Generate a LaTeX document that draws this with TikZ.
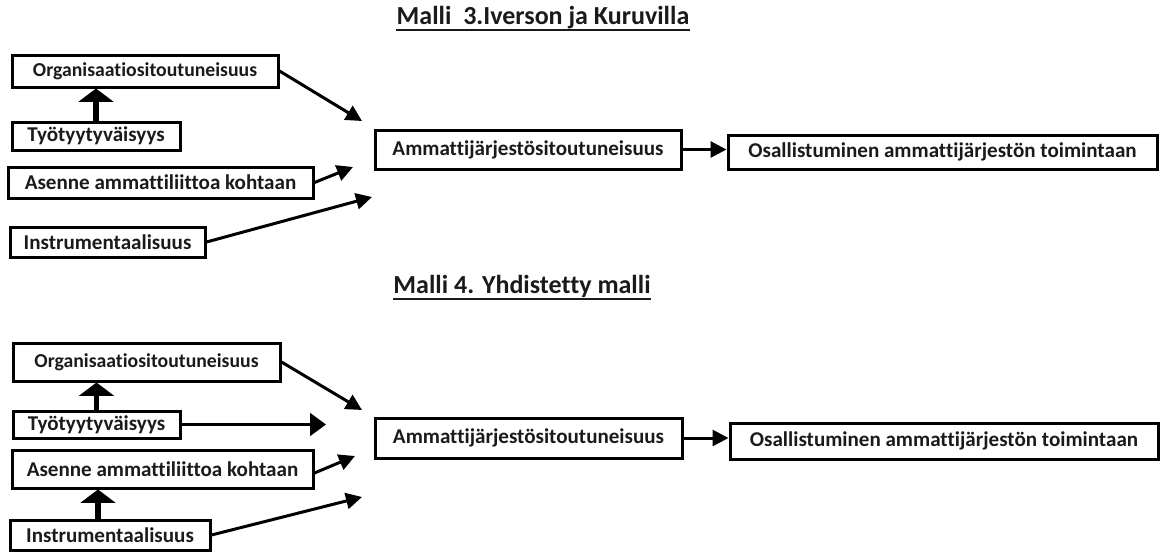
\documentclass[tikz,border=0pt]{standalone}
\usepackage{fontspec}
\setmainfont{Carlito}[Ligatures=CommonOff]
\usetikzlibrary{arrows.meta}
\definecolor{mtext}{HTML}{1a1a1a}

\tikzset{
	box/.style={draw=black, line width=2.25pt, inner sep=0pt, font=\bfseries\fontsize{15.8}{18}\selectfont, text=mtext},
	smallbox/.style={box, font=\bfseries\fontsize{14.8}{17}\selectfont},
	heading/.style={inner xsep=0pt, font=\bfseries\fontsize{19.5}{22}\selectfont, text=mtext},
	uline/.style={line width=1.5pt, mtext},
	link/.style={line width=2.25pt, -{Triangle[length=12pt,width=12pt]}},
	biglink/.style={line width=2.25pt, -{Triangle[length=12pt,width=17pt]}},
	uplink/.style={line width=4pt, -{Triangle[length=10pt,width=26pt]}}
}

\begin{document}
\begin{tikzpicture}[x=0.75pt, y=-0.75pt]
		\useasboundingbox (0,0) rectangle (1163,554);

		% Malli 3
		\node[heading, anchor=base] (t1) at (543,24) {Malli\ \ 3.Iverson ja Kuruvilla};
		\draw[uline] ([yshift=-4.5pt]t1.base west) -- ([yshift=-4.5pt]t1.base east);

		\node[smallbox, minimum width=199.5pt, minimum height=24pt] (org1) at (145,71) {Organisaatiositoutuneisuus};
		\node[box, minimum width=126pt, minimum height=21pt] (tyo1) at (96,136) {Työtyytyväisyys};
		\node[box, minimum width=228.75pt, minimum height=23.25pt] (ase1) at (160.5,182.5) {Asenne ammattiliittoa kohtaan};
		\node[box, minimum width=146.25pt, minimum height=22.5pt] (ins1) at (107.5,242) {Instrumentaalisuus};
		\node[box, minimum width=229.5pt, minimum height=29.25pt] (amm1) at (528,149.5) {Ammattijärjestösitoutuneisuus};
		\node[box, minimum width=321.75pt, minimum height=25.5pt] (osa1) at (942.5,152) {Osallistuminen ammattijärjestön toimintaan};

		\coordinate (e1o) at (362,121);
		\coordinate (e1a) at (353,167);
		\coordinate (e1i) at (372,197);

		\draw[uplink] (tyo1.north) -- (tyo1.north |- org1.south);
		\draw[link] (org1.east) -- (e1o);
		\draw[link] (ase1.east) -- (e1a);
		\draw[link] (ins1.east) -- (e1i);
		\draw[link] (amm1.east) -- (amm1.east -| osa1.west);

		% Malli 4
		\node[heading, anchor=base] (t2) at (522,293) {Malli 4. Yhdistetty malli};
		\draw[uline] ([yshift=-4.5pt]t2.base west) -- ([yshift=-4.5pt]t2.base east);

		\node[smallbox, minimum width=200.25pt, minimum height=28.5pt] (org2) at (146.5,362) {Organisaatiositoutuneisuus};
		\node[box, minimum width=125.25pt, minimum height=20.25pt] (tyo2) at (96.5,424.5) {Työtyytyväisyys};
		\node[box, minimum width=225.75pt, minimum height=28.5pt] (ase2) at (162.5,469) {Asenne ammattiliittoa kohtaan};
		\node[box, minimum width=150pt, minimum height=22.5pt] (ins2) at (110,535) {Instrumentaalisuus};
		\node[box, minimum width=230.25pt, minimum height=30pt] (amm2) at (528.5,438) {Ammattijärjestösitoutuneisuus};
		\node[box, minimum width=321pt, minimum height=27pt] (osa2) at (944,441) {Osallistuminen ammattijärjestön toimintaan};

		\coordinate (e2o) at (362,410);
		\coordinate (e2t) at (326,424.5);
		\coordinate (e2a) at (355,456);
		\coordinate (e2i) at (362,497);

		\draw[uplink] (tyo2.north) -- (tyo2.north |- org2.south);
		\draw[uplink] ([xshift=-9pt]ins2.north) -- ([xshift=-9pt]ins2.north |- ase2.south);
		\draw[link] (org2.east) -- (e2o);
		\draw[biglink] (tyo2.east) -- (e2t);
		\draw[link] ([yshift=-3pt]ase2.east) -- (e2a);
		\draw[link] (ins2.east) -- (e2i);
		\draw[link] (amm2.east) -- (amm2.east -| osa2.west);
	\end{tikzpicture}
\end{document}
